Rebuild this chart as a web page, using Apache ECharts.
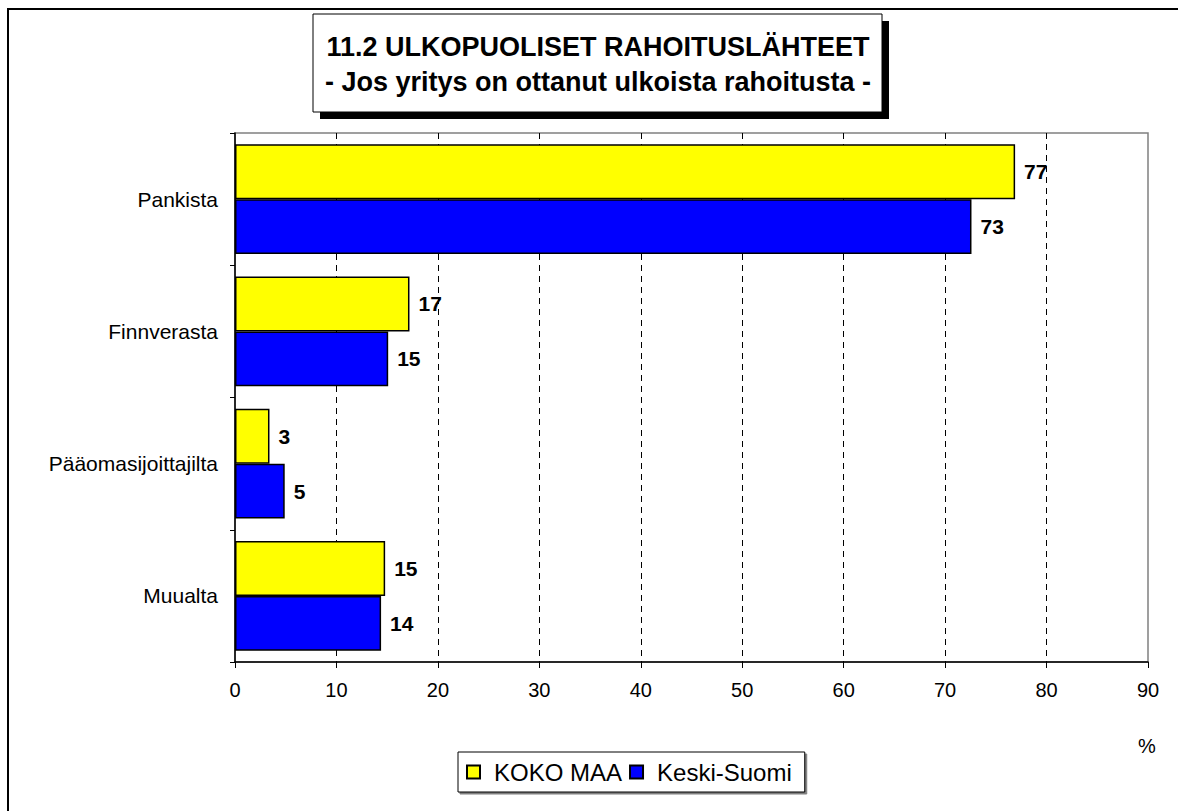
<!DOCTYPE html>
<html>
<head>
<meta charset="utf-8">
<script src="https://cdn.jsdelivr.net/npm/echarts@6/dist/echarts.min.js"></script>
<style>
  html, body { margin: 0; padding: 0; background: #fff; }
  #main { width: 1178px; height: 811px; }
</style>
</head>
<body>
<div id="main"></div>
<script>
// luokat ja arvot (luettu kuvasta)
var categories = ["Pankista", "Finnverasta", "Pääomasijoittajilta", "Muualta"];
var kokoMaa = [76.9, 17.2, 3.4, 14.8];
var keskiSuomi = [72.6, 15.1, 4.9, 14.4];
var seriesNames = ["KOKO MAA", "Keski-Suomi"];
var xTicks = { min: 0, max: 90, interval: 10 };

var font = "Arial, 'Liberation Sans', sans-serif";

var myChart = echarts.init(document.getElementById("main"), null, { renderer: "svg" });

var labelStyle = {
  show: true,
  position: "right",
  distance: 9,
  color: "#000",
  fontFamily: font,
  fontWeight: "bold",
  fontSize: 21,
  formatter: function (p) { return Math.round(p.value); }
};

myChart.setOption({
  animation: false,
  backgroundColor: "#fff",
  grid: {
    left: 235,
    right: 30,
    top: 133,
    bottom: 149,
    show: true,
    borderColor: "#808080",
    borderWidth: 1.5,
    backgroundColor: "transparent"
  },
  xAxis: {
    type: "value",
    min: xTicks.min,
    max: xTicks.max,
    interval: xTicks.interval,
    axisLine: { show: true, lineStyle: { color: "#000", width: 1.5 } },
    axisTick: { show: true, length: 6, lineStyle: { color: "#000" } },
    axisLabel: { color: "#000", fontFamily: font, fontSize: 20, margin: 18 },
    splitLine: {
      show: true,
      showMinLine: false,
      showMaxLine: false,
      lineStyle: { color: "#000", type: [6, 5], width: 1 }
    }
  },
  yAxis: {
    type: "category",
    data: categories,
    inverse: true,
    axisLine: { show: true, lineStyle: { color: "#000", width: 1.5 } },
    axisTick: { show: true, length: 5, lineStyle: { color: "#000" } },
    axisLabel: { color: "#000", fontFamily: font, fontSize: 21, margin: 17 }
  },
  legend: {
    left: 458,
    top: 752,
    orient: "horizontal",
    icon: "rect",
    itemWidth: 13,
    itemHeight: 13,
    itemGap: 7,
    padding: [8, 13, 8, 8],
    borderColor: "#000",
    borderWidth: 1,
    backgroundColor: "#fff",
    shadowColor: "rgba(0,0,0,0.5)",
    shadowOffsetX: 2,
    shadowOffsetY: 2,
    textStyle: { color: "#000", fontFamily: font, fontSize: 24, padding: [0, 0, 0, 9] },
    data: seriesNames
  },
  series: [
    {
      name: seriesNames[0],
      type: "bar",
      data: kokoMaa,
      barCategoryGap: "17%",
      barGap: "0%",
      itemStyle: { color: "#ffff00", borderColor: "#000", borderWidth: 1.5 },
      label: labelStyle
    },
    {
      name: seriesNames[1],
      type: "bar",
      data: keskiSuomi,
      barCategoryGap: "17%",
      barGap: "0%",
      itemStyle: { color: "#0000ff", borderColor: "#000", borderWidth: 1.5 },
      label: labelStyle
    }
  ],
  graphic: [
    {
      type: "rect",
      z: -10,
      shape: { x: 8, y: 9, width: 1300, height: 900 },
      style: { fill: "none", stroke: "#000", lineWidth: 2 }
    },
    {
      type: "rect",
      z: 10,
      shape: { x: 320, y: 21, width: 569, height: 98 },
      style: { fill: "#000" }
    },
    {
      type: "rect",
      z: 11,
      shape: { x: 313, y: 14, width: 569, height: 98 },
      style: { fill: "#fff", stroke: "#000", lineWidth: 1 }
    },
    {
      type: "text",
      z: 12,
      x: 598,
      y: 47,
      style: {
        text: "11.2 ULKOPUOLISET RAHOITUSLÄHTEET",
        fill: "#000",
        font: "bold 27px " + font,
        textAlign: "center",
        textVerticalAlign: "middle"
      }
    },
    {
      type: "text",
      z: 12,
      x: 598,
      y: 82,
      style: {
        text: "- Jos yritys on ottanut ulkoista rahoitusta -",
        fill: "#000",
        font: "bold 27px " + font,
        textAlign: "center",
        textVerticalAlign: "middle"
      }
    },
    {
      type: "text",
      x: 1147,
      y: 746,
      style: {
        text: "%",
        fill: "#000",
        font: "20px " + font,
        textAlign: "center",
        textVerticalAlign: "middle"
      }
    }
  ]
});
</script>
</body>
</html>
